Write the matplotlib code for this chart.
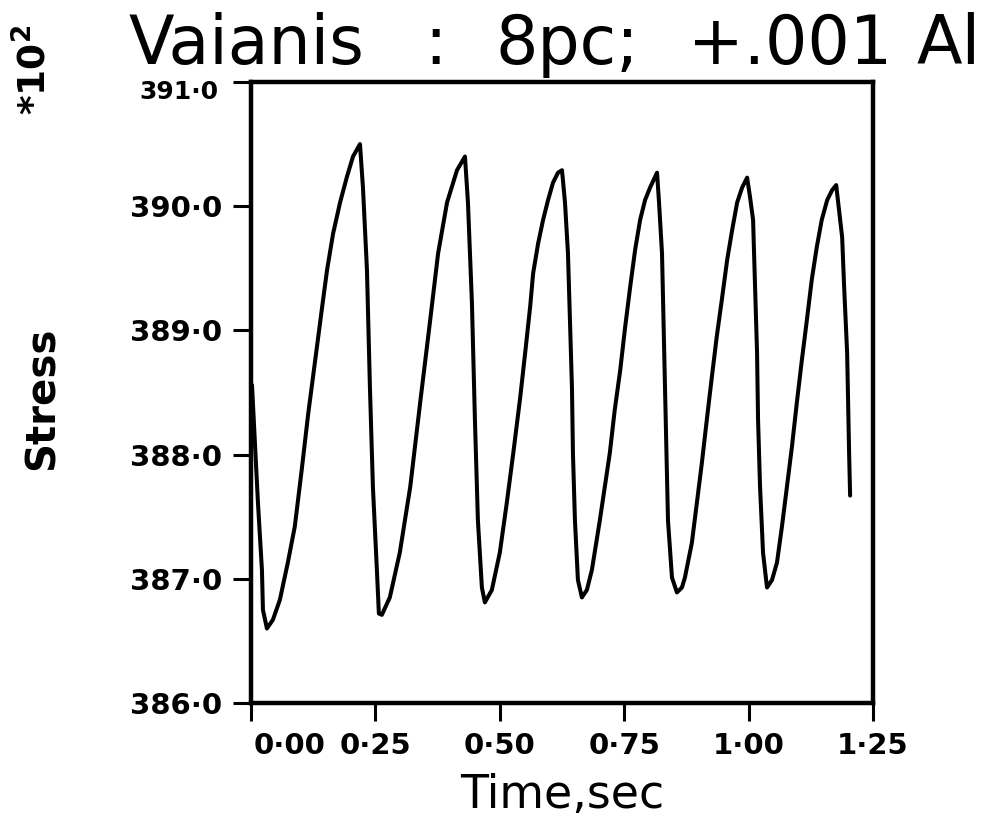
import matplotlib
matplotlib.use("Agg")
import matplotlib.pyplot as plt
import matplotlib.transforms as mtransforms
from matplotlib.ticker import FuncFormatter

time_s = [0.002, 0.014, 0.022, 0.024, 0.032,
          0.044, 0.058, 0.074, 0.088, 0.102, 0.115, 0.129, 0.143, 0.153,
          0.165, 0.179, 0.193, 0.205, 0.219,
          0.225, 0.233, 0.239, 0.245, 0.253, 0.257, 0.263,
          0.279, 0.299, 0.320, 0.340, 0.360, 0.376, 0.394, 0.414, 0.430,
          0.436, 0.444, 0.450, 0.456, 0.464, 0.470,
          0.484, 0.500, 0.514, 0.527, 0.541, 0.551, 0.561, 0.567, 0.577,
          0.587, 0.597, 0.607, 0.617, 0.625,
          0.631, 0.637, 0.641, 0.645, 0.647, 0.651, 0.657, 0.665,
          0.675, 0.685, 0.701, 0.711, 0.721, 0.731, 0.742, 0.752, 0.762,
          0.772, 0.782, 0.792, 0.802, 0.816,
          0.820, 0.826, 0.832, 0.838, 0.846, 0.856,
          0.866, 0.872, 0.886, 0.896, 0.906, 0.916, 0.926, 0.936, 0.947,
          0.957, 0.967, 0.977, 0.987, 0.997,
          1.003, 1.009, 1.013, 1.017, 1.019, 1.023, 1.029, 1.037,
          1.047, 1.057, 1.067, 1.077, 1.087, 1.097, 1.107, 1.117, 1.127,
          1.137, 1.147, 1.158, 1.168, 1.176,
          1.180, 1.188, 1.192, 1.198, 1.200, 1.202, 1.204]
stress = [388.56, 387.61, 387.07, 386.75, 386.60,
          386.67, 386.83, 387.13, 387.42, 387.88, 388.33, 388.76, 389.19, 389.49,
          389.78, 390.03, 390.24, 390.40, 390.50,
          390.15, 389.49, 388.54, 387.74, 387.07, 386.72, 386.71,
          386.85, 387.21, 387.74, 388.42, 389.08, 389.62, 390.03, 390.29, 390.40,
          390.03, 389.22, 388.28, 387.47, 386.93, 386.81,
          386.91, 387.21, 387.61, 388.01, 388.46, 388.82, 389.19, 389.46, 389.70,
          389.89, 390.05, 390.19, 390.27, 390.29,
          390.03, 389.62, 389.08, 388.54, 388.01, 387.47, 386.99, 386.85,
          386.91, 387.07, 387.47, 387.74, 388.01, 388.36, 388.68, 389.03, 389.35,
          389.65, 389.89, 390.05, 390.15, 390.27,
          390.03, 389.62, 388.54, 387.47, 387.01, 386.89,
          386.93, 387.01, 387.29, 387.61, 387.93, 388.28, 388.62, 388.95, 389.27,
          389.57, 389.81, 390.03, 390.15, 390.23,
          390.07, 389.89, 389.35, 388.82, 388.28, 387.74, 387.21, 386.93,
          386.99, 387.13, 387.42, 387.74, 388.06, 388.42, 388.76, 389.08, 389.41,
          389.67, 389.89, 390.05, 390.13, 390.17,
          390.03, 389.75, 389.35, 388.82, 388.42, 388.01, 387.67]

x_ticks = [0.0, 0.25, 0.5, 0.75, 1.0, 1.25]
y_ticks = [386.0, 387.0, 388.0, 389.0, 390.0, 391.0]

title_parts = ["Vaianis", ":", "8pc;", "+.001", "Al"]
title_x_px = [128, 424, 495, 688, 916]

W, H = 984, 816
fig = plt.figure(figsize=(W / 100, H / 100), dpi=100)
ax = fig.add_axes([251 / W, 1 - 703 / H, 622 / W, 621 / H])

ax.plot(time_s, stress, color="black", lw=2.9,
        solid_joinstyle="round", solid_capstyle="round")

ax.set_xlim(0, 1.25)
ax.set_ylim(386, 391)
ax.set_xticks(x_ticks)
ax.set_yticks(y_ticks)
ax.xaxis.set_major_formatter(FuncFormatter(lambda v, p: f"{v:.2f}".replace(".", "\u00b7")))
ax.yaxis.set_major_formatter(FuncFormatter(lambda v, p: f"{v:.1f}".replace(".", "\u00b7")))
ax.tick_params(direction="out", length=13, width=2.2, color="black",
               labelsize=21, pad=8)
for lab in ax.get_xticklabels() + ax.get_yticklabels():
    lab.set_fontweight("bold")

# first time label sits to the right of its tick, top stress label drops a bit
xl = ax.get_xticklabels()
xl[0].set_transform(xl[0].get_transform()
                    + mtransforms.ScaledTranslation(0.39, 0, fig.dpi_scale_trans))
yl = ax.get_yticklabels()
yl[-1].set_fontsize(18)
yl[-1].set_transform(yl[-1].get_transform()
                     + mtransforms.ScaledTranslation(-0.03, -0.08, fig.dpi_scale_trans))

for s in ax.spines.values():
    s.set_linewidth(3.2)

ax.set_xlabel("Time,sec", fontsize=33, labelpad=9)

fig.text(43 / W, 1 - 398 / H, "Stress", rotation=90, fontsize=29,
         fontweight="bold", ha="center", va="center")
fig.text(35 / W, 1 - 70 / H, r"*10$^\mathbf{2}$", rotation=90, fontsize=27,
         fontweight="bold", ha="center", va="center")

for txt, px in zip(title_parts, title_x_px):
    fig.text(px / W, 1 - 64 / H, txt, fontsize=48, ha="left", va="baseline")

fig.savefig("out.png", dpi=100)
